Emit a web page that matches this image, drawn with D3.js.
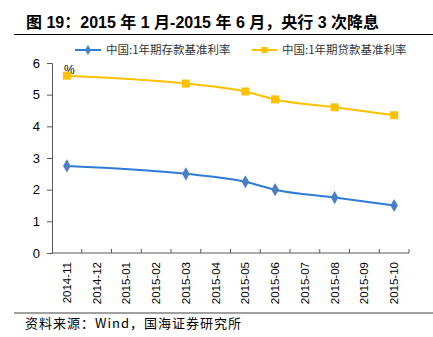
<!DOCTYPE html>
<html>
<head>
<meta charset="utf-8">
<script src="https://cdn.jsdelivr.net/npm/d3@7"></script>
<style>
  html, body { margin: 0; padding: 0; background: #fff; }
  svg { display: block; }
</style>
</head>
<body>
<svg id="chart" width="433" height="337"></svg>
<script>
// Monthly categories on the x axis
const months = ["2014-11","2014-12","2015-01","2015-02","2015-03","2015-04",
                "2015-05","2015-06","2015-07","2015-08","2015-09","2015-10"];
// Months with a rate change
const rateMonths = ["2014-11","2015-03","2015-05","2015-06","2015-08","2015-10"];
// 1-year benchmark deposit rate (%)
const depositRate = [2.75, 2.5, 2.25, 2.0, 1.75, 1.5];
// 1-year benchmark lending rate (%)
const loanRate = [5.6, 5.35, 5.1, 4.85, 4.6, 4.35];
const yTicks = [0, 1, 2, 3, 4, 5, 6];

const seriesNames = ["中国:1年期存款基准利率", "中国:1年期贷款基准利率"];
const blue = "#2f7bd6", blueMarker = "#4a7fc4", yellow = "#ffc000";

const svg = d3.select("#chart");
const plot = { left: 52, right: 409, top: 63, bottom: 253 };

const x = d3.scaleBand().domain(months).range([plot.left, plot.right]);
const y = d3.scaleLinear().domain([0, 6]).range([plot.bottom, plot.top]);

// Title and rule
svg.append("text").attr("x", 26).attr("y", 28)
  .attr("font-family", "Liberation Sans, Arial, 'Noto Sans CJK SC', sans-serif")
  .attr("font-weight", "bold").attr("font-size", 16).attr("fill", "#000")
  .text("图 19：2015 年 1 月-2015 年 6 月，央行 3 次降息");
svg.append("line").attr("x1", 14).attr("x2", 433).attr("y1", 34.5).attr("y2", 34.5)
  .attr("stroke", "#000").attr("stroke-width", 1);

// Y axis
const yAxis = svg.append("g").attr("transform", `translate(${plot.left},0)`)
  .call(d3.axisLeft(y).tickValues(yTicks).tickFormat(d3.format("d")).tickSize(5).tickPadding(7));
yAxis.select(".domain").attr("stroke", "#595959");
yAxis.selectAll(".tick line").attr("stroke", "#595959");
yAxis.selectAll("text").attr("font-family", "Liberation Sans, Arial, sans-serif")
  .attr("font-size", 13).attr("fill", "#000");

// X axis with ticks at category boundaries
const xAxis = svg.append("g").attr("transform", `translate(0,${plot.bottom})`);
xAxis.append("line").attr("x1", plot.left).attr("x2", plot.right)
  .attr("y1", 0).attr("y2", 0).attr("stroke", "#595959");
xAxis.selectAll("line.tk").data(months).enter().append("line").attr("class", "tk")
  .attr("x1", d => x(d) + x.bandwidth()).attr("x2", d => x(d) + x.bandwidth())
  .attr("y1", 0).attr("y2", -4).attr("stroke", "#595959");
xAxis.selectAll("text").data(months).enter().append("text")
  .attr("transform", d => `translate(${x(d) + x.bandwidth() / 2 + 4},9) rotate(-90)`)
  .attr("text-anchor", "end")
  .attr("font-family", "Liberation Sans, Arial, sans-serif")
  .attr("font-size", 11.5).attr("fill", "#000")
  .text(d => d);

// Unit label
svg.append("text").attr("x", 64).attr("y", 74)
  .attr("font-family", "Liberation Sans, Arial, sans-serif")
  .attr("font-size", 12).attr("fill", "#000").text("%");

const cx = m => x(m) + x.bandwidth() / 2;
const line = d3.line().x(d => cx(d[0])).y(d => y(d[1])).curve(d3.curveMonotoneX);

const depData = rateMonths.map((m, i) => [m, depositRate[i]]);
const loanData = rateMonths.map((m, i) => [m, loanRate[i]]);

svg.append("path").datum(loanData).attr("d", line)
  .attr("fill", "none").attr("stroke", yellow).attr("stroke-width", 2);
svg.append("path").datum(depData).attr("d", line)
  .attr("fill", "none").attr("stroke", blue).attr("stroke-width", 2);

svg.selectAll("rect.loan").data(loanData).enter().append("rect").attr("class", "loan")
  .attr("x", d => cx(d[0]) - 4).attr("y", d => y(d[1]) - 4)
  .attr("width", 8).attr("height", 8).attr("fill", yellow);

const diamond = d3.symbol().type(d3.symbolDiamond).size(50);
svg.selectAll("path.dep").data(depData).enter().append("path").attr("class", "dep")
  .attr("d", diamond)
  .attr("transform", d => `translate(${cx(d[0])},${y(d[1])})`)
  .attr("fill", blueMarker);

// Legend
const legendFont = "'Noto Sans CJK SC', sans-serif";
const lg = svg.append("g");
lg.append("line").attr("x1", 75).attr("x2", 101).attr("y1", 50).attr("y2", 50)
  .attr("stroke", blue).attr("stroke-width", 2);
lg.append("path").attr("d", d3.symbol().type(d3.symbolDiamond).size(30))
  .attr("transform", "translate(88,50)").attr("fill", blueMarker);
lg.append("text").attr("x", 106).attr("y", 54).attr("font-family", legendFont)
  .attr("font-size", 11.5).attr("fill", "#333").text(seriesNames[0]);
lg.append("line").attr("x1", 252).attr("x2", 277).attr("y1", 50).attr("y2", 50)
  .attr("stroke", yellow).attr("stroke-width", 2);
lg.append("rect").attr("x", 261.5).attr("y", 47).attr("width", 6).attr("height", 6)
  .attr("fill", yellow);
lg.append("text").attr("x", 282).attr("y", 54).attr("font-family", legendFont)
  .attr("font-size", 11.5).attr("fill", "#333").text(seriesNames[1]);

// Source line
svg.append("line").attr("x1", 14).attr("x2", 433).attr("y1", 313).attr("y2", 313)
  .attr("stroke", "#808080").attr("stroke-width", 1.5);
svg.append("text").attr("x", 25).attr("y", 328)
  .attr("font-family", "'Noto Sans CJK SC', sans-serif")
  .attr("font-size", 13).attr("letter-spacing", 1).attr("fill", "#000")
  .text("资料来源：Wind，国海证券研究所");
</script>
</body>
</html>
